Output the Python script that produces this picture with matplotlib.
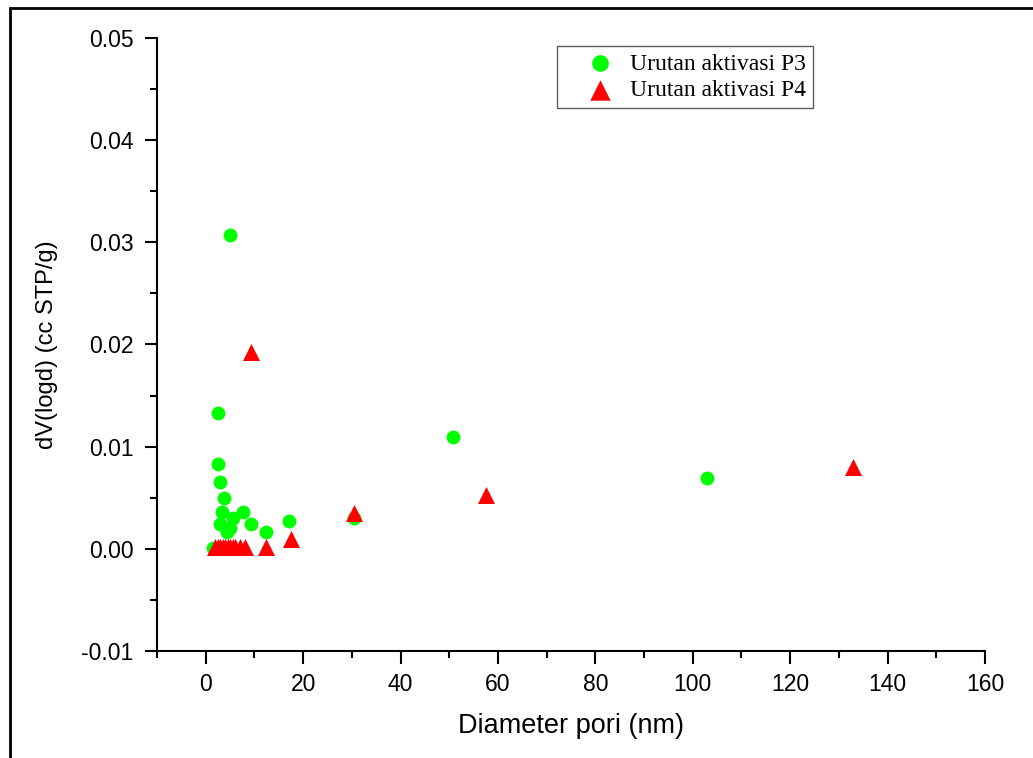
import matplotlib
matplotlib.use('Agg')
import matplotlib.pyplot as plt
from matplotlib.patches import Rectangle
from matplotlib.ticker import MultipleLocator

# pore size distribution, P3 activation sequence
p3_diameter = [1.5, 2.5, 2.6, 3.0, 3.7, 3.3, 2.9, 4.3, 4.9, 5.0, 5.6, 7.6, 9.4, 12.3, 17.2, 30.5, 50.7, 103.0]
p3_dv = [0.0001, 0.0133, 0.0083, 0.0065, 0.0050, 0.0036, 0.0024, 0.0016, 0.0020, 0.0307, 0.0030, 0.0036, 0.0024, 0.0016, 0.0027, 0.0030, 0.0109, 0.0069]

# P4 activation sequence
p4_diameter = [2.0, 2.5, 3.0, 3.5, 4.0, 4.5, 5.0, 5.5, 6.0, 7.0, 8.0, 9.4, 12.3, 17.5, 30.5, 57.5, 133.0]
p4_dv = [0.0002, 0.0002, 0.0002, 0.0002, 0.0002, 0.0002, 0.0002, 0.0002, 0.0002, 0.0002, 0.0002, 0.0193, 0.0002, 0.0010, 0.0035, 0.0053, 0.0080]

x_ticks = [0, 20, 40, 60, 80, 100, 120, 140, 160]
y_ticks = [-0.01, 0.0, 0.01, 0.02, 0.03, 0.04, 0.05]
y_ticklabels = ['-0.01', '0.00', '0.01', '0.02', '0.03', '0.04', '0.05']

plt.rcParams['font.family'] = ['Liberation Sans', 'DejaVu Sans']

fig = plt.figure(figsize=(10.33, 7.58), dpi=100)
ax = fig.add_axes([0.152, 0.1412, 0.8015, 0.8088])

ax.scatter(p3_diameter, p3_dv, s=100, marker='o', color='#00ff00', linewidths=0,
           label='Urutan aktivasi P3', zorder=3)
ax.scatter(p4_diameter, p4_dv, s=150, marker='^', color='#ff0000', linewidths=0,
           label='Urutan aktivasi P4', zorder=4)

ax.set_xlim(-10, 160)
ax.set_ylim(-0.01, 0.05)
ax.xaxis.set_minor_locator(MultipleLocator(10))
ax.yaxis.set_minor_locator(MultipleLocator(0.005))
ax.set_xticks(x_ticks)
ax.set_yticks(y_ticks)
ax.set_yticklabels(y_ticklabels)

for side in ['top', 'right']:
    ax.spines[side].set_visible(False)
for side in ['left', 'bottom']:
    ax.spines[side].set_linewidth(1.5)
ax.tick_params(which='major', direction='out', length=9, width=1.5, labelsize=16.5)
ax.tick_params(axis='y', which='major', pad=8)
ax.tick_params(axis='x', which='major', pad=7)
ax.tick_params(which='minor', direction='out', length=5, width=1.5)

ax.set_xlabel('Diameter pori (nm)', fontsize=19.5, labelpad=12)
ax.set_ylabel('dV(logd) (cc STP/g)', fontsize=17, labelpad=17)

leg = ax.legend(loc='upper left', bbox_to_anchor=(0.4685, 1.006),
                prop={'family': ['Liberation Serif'], 'size': 17},
                frameon=True, fancybox=False, edgecolor='#333333',
                handletextpad=-0.3, borderpad=0.3, labelspacing=0.2, scatterpoints=1,
                handlelength=3.1, markerscale=1.2)
leg.get_frame().set_linewidth(1.0)

# frame around the whole picture
fig.add_artist(Rectangle((10 / 1033, -0.1), 1.2, (758 - 8) / 758 + 0.1,
                         transform=fig.transFigure, fill=False, edgecolor='black', linewidth=2))

fig.savefig('out.png', dpi=100)
